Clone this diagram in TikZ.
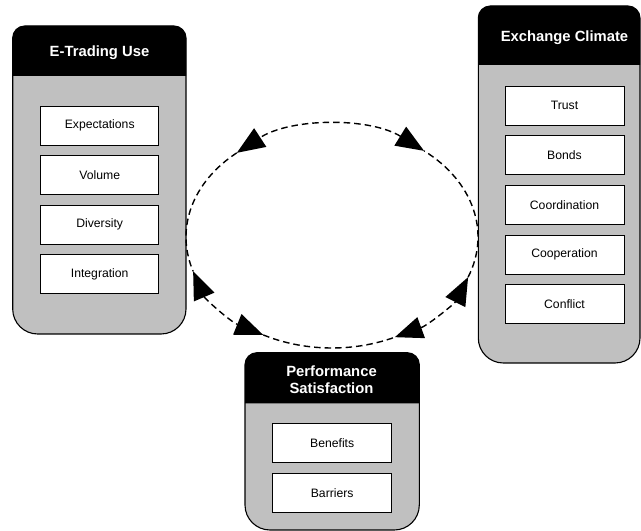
\documentclass[tikz,border=0pt]{standalone}
\usepackage{fontspec}
\setmainfont{Liberation Sans}
\usetikzlibrary{arrows.meta}
\definecolor{panelgray}{RGB}{192,192,192}
\tikzset{
  itembox/.style={draw=black, line width=0.9pt, fill=white, minimum width=118pt, minimum height=39pt, inner sep=0pt, font=\fontsize{12.2}{14}\selectfont},
  titletext/.style={text=white, font=\bfseries\fontsize{14.8}{16.6}\selectfont, align=center, inner sep=0pt},
  cyc/.style={dashed, dash pattern=on 6.5pt off 4pt, line width=1.4pt},
  tip/.style={{Triangle[length=28pt,width=22pt]}-{Triangle[length=28pt,width=22pt]}}
}
% \panelbox{x1}{x2}{top}{bottom}{header bottom}
\newcommand{\panelbox}[5]{%
  \fill[panelgray] (#1,#3-12) -- (#1,#4+25) arc[start angle=180,end angle=270,radius=25]
     -- (#2-25,#4) arc[start angle=270,end angle=360,radius=25]
     -- (#2,#3-12) arc[start angle=0,end angle=90,radius=12]
     -- (#1+12,#3) arc[start angle=90,end angle=180,radius=12] -- cycle;
  \fill[black] (#1,#5) -- (#1,#3-12) arc[start angle=180,end angle=90,radius=12]
     -- (#2-12,#3) arc[start angle=90,end angle=0,radius=12] -- (#2,#5) -- cycle;
  \draw[black, line width=1.1pt] (#1,#3-12) -- (#1,#4+25) arc[start angle=180,end angle=270,radius=25]
     -- (#2-25,#4) arc[start angle=270,end angle=360,radius=25]
     -- (#2,#3-12) arc[start angle=0,end angle=90,radius=12]
     -- (#1+12,#3) arc[start angle=90,end angle=180,radius=12] -- cycle;
}
\begin{document}
\begin{tikzpicture}[x=1pt,y=1pt]
\useasboundingbox (0,0) rectangle (641,531);

% panels
\panelbox{12.7}{186}{505}{197}{455}
\panelbox{478.3}{640}{525}{168}{466}
\panelbox{245}{419.3}{178.3}{1}{127.7}

% titles
\node[titletext] (tE) at (99.5,478.7) {E-Trading Use};
\node[titletext] (tX) at (564.5,493.7) {Exchange Climate};
\node[titletext] (tP) at (331.5,151) {Performance\\Satisfaction};

% E-Trading items
\node[itembox] (e1) at (99.7,405.3) {Expectations};
\node[itembox] (e2) at (99.7,356) {Volume};
\node[itembox] (e3) at (99.7,306.5) {Diversity};
\node[itembox] (e4) at (99.7,257) {Integration};

% Exchange items
\node[itembox, minimum width=119pt] (x1) at (564.5,425.3) {Trust};
\node[itembox, minimum width=119pt] (x2) at (564.5,376.2) {Bonds};
\node[itembox, minimum width=119pt] (x3) at (564.5,326.3) {Coordination};
\node[itembox, minimum width=119pt] (x4) at (564.5,276.5) {Cooperation};
\node[itembox, minimum width=119pt] (x5) at (564.5,227.2) {Conflict};

% Performance items
\node[itembox, minimum width=119pt] (p1) at (332.2,88) {Benefits};
\node[itembox, minimum width=119pt] (p2) at (332.2,38) {Barriers};

% cycle
\def\rx{146}\def\ry{111}
\draw[cyc, tip] (332+\rx*cos 50.9, 294+\ry*sin 50.9) arc[start angle=50.9, end angle=130.7, x radius=\rx, y radius=\ry];
\draw[cyc] (332+\rx*cos 130.7, 294+\ry*sin 130.7) arc[start angle=130.7, end angle=198, x radius=\rx, y radius=\ry];
\draw[cyc, tip] (332+\rx*cos 198, 294+\ry*sin 198) arc[start angle=198, end angle=241.9, x radius=\rx, y radius=\ry];
\draw[cyc] (332+\rx*cos 241.9, 294+\ry*sin 241.9) arc[start angle=241.9, end angle=295.5, x radius=\rx, y radius=\ry];
\draw[cyc, tip] (332+\rx*cos 295.5, 294+\ry*sin 295.5) arc[start angle=295.5, end angle=338.8, x radius=\rx, y radius=\ry];
\draw[cyc] (332+\rx*cos 338.8, 294+\ry*sin 338.8) arc[start angle=338.8, end angle=410.9, x radius=\rx, y radius=\ry];
\end{tikzpicture}
\end{document}
